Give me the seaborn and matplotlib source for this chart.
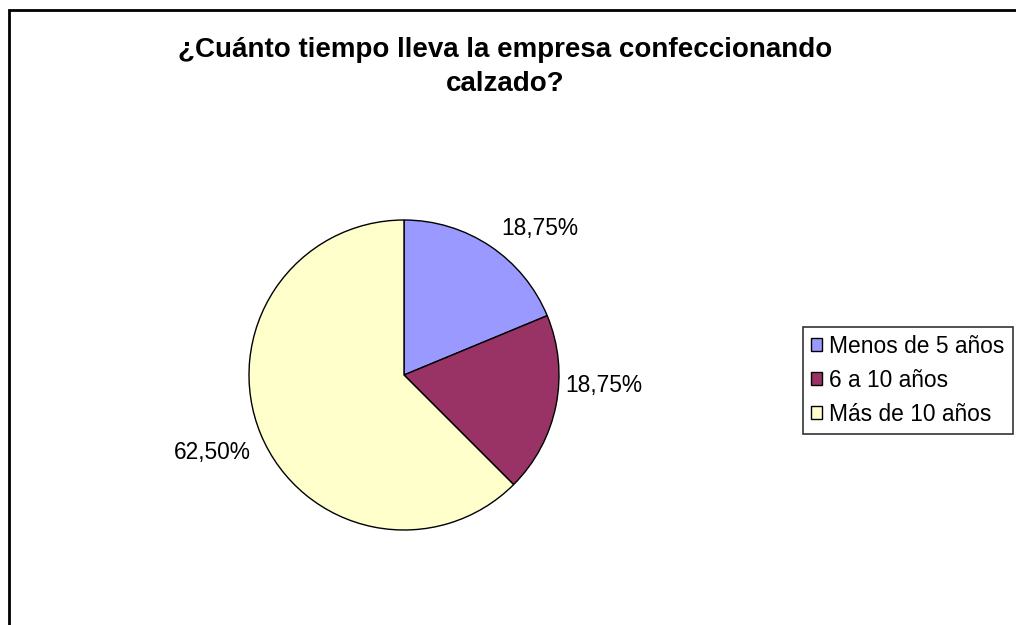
import matplotlib
matplotlib.use("Agg")
import matplotlib.pyplot as plt
from matplotlib.patches import Rectangle
import seaborn as sns

categories = ["Menos de 5 años", "6 a 10 años", "Más de 10 años"]
values = [18.75, 18.75, 62.50]
value_labels = ["18,75%", "18,75%", "62,50%"]
colors = ["#9999FF", "#993366", "#FFFFCC"]

sns.set_style("white")
plt.rcParams["font.family"] = ["Liberation Sans", "DejaVu Sans"]
plt.rcParams["text.color"] = "black"

W, H = 1016, 625
fig = plt.figure(figsize=(W / 100, H / 100), dpi=100)
fig.patch.set_facecolor("white")

# outer chart border (left and top visible, right/bottom cut off)
fig.patches.append(Rectangle((9 / W, -0.1), 1.2, 1 - 10 / H + 0.1,
                             transform=fig.transFigure, fill=False,
                             edgecolor="black", linewidth=2, clip_on=False))

cx, cy, r = 404, 375, 155
ax = fig.add_axes([(cx - r) / W, (H - cy - r) / H, 2 * r / W, 2 * r / H])
palette = sns.color_palette(colors)
wedges, texts = ax.pie(values, colors=palette, startangle=90, counterclock=False,
                       labels=value_labels, labeldistance=1.2,
                       wedgeprops=dict(edgecolor="black", linewidth=1),
                       textprops=dict(fontsize=16.4, color="black"))
ax.set_xlim(-1, 1)
ax.set_ylim(-1, 1)
ax.set_aspect("equal")
ax.axis("off")

# label placement (in pie radius units)
label_pos = [(0.877, 0.942), (1.29, -0.065), (-1.239, -0.497)]
for t, (x, y) in zip(texts, label_pos):
    t.set_position((x, y))
    t.set_ha("center")
    t.set_va("center")

fig.text(505 / W, 1 - 67 / H, "¿Cuánto tiempo lleva la empresa confeccionando\ncalzado?",
         ha="center", va="center", fontsize=20, fontweight="bold", color="black",
         multialignment="center", linespacing=1.4)

leg = fig.legend(wedges, categories, loc="upper left",
                 bbox_to_anchor=(803 / W, 1 - 327 / H), bbox_transform=fig.transFigure,
                 borderaxespad=0, frameon=True, fancybox=False, fontsize=16.4,
                 handlelength=0.5, handleheight=0.5, handletextpad=0.3,
                 labelspacing=0.48, borderpad=0.35, labelcolor="black")
leg.get_frame().set_edgecolor("black")
leg.get_frame().set_linewidth(1.2)
for h in leg.legend_handles:
    h.set_edgecolor("black")
    h.set_linewidth(1)

fig.savefig("out.png", dpi=100)
